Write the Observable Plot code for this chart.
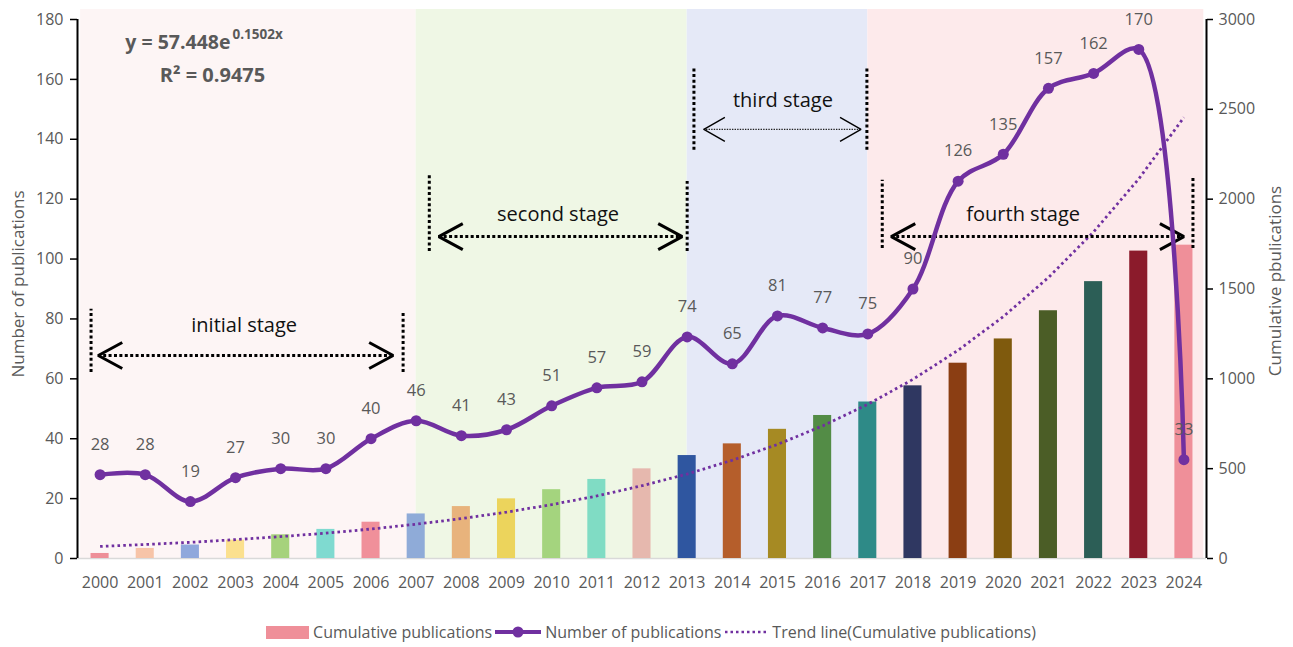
<!DOCTYPE html>
<html><head><meta charset="utf-8">
<script src="https://cdn.jsdelivr.net/npm/d3@7"></script>
<script src="https://cdn.jsdelivr.net/npm/@observablehq/plot@0.6"></script>
<style>
html,body{margin:0;padding:0;background:#fff;}
body{font-family:"Open Sans",sans-serif;width:1293px;}
#legend{display:flex;align-items:center;justify-content:center;height:44px;font-size:16px;color:#595959;padding-left:12px;box-sizing:border-box;width:1293px;}
#legend span.t{margin:0 3px 0 4px;white-space:nowrap;}
</style></head>
<body>
<div id="chart"></div>
<div id="legend">
  <svg width="43" height="13"><rect x="0" y="0" width="43" height="13" fill="#ef8f99"></rect></svg>
  <span class="t">Cumulative publications</span>
  <svg width="46" height="14"><line x1="0" y1="7" x2="46" y2="7" stroke="#7030a0" stroke-width="4"></line><circle cx="23" cy="7" r="5.5" fill="#7030a0"></circle></svg>
  <span class="t">Number of publications</span>
  <svg width="44" height="14"><line x1="1" y1="7" x2="43" y2="7" stroke="#7030a0" stroke-width="2.5" stroke-dasharray="2.5,3"></line></svg>
  <span class="t">Trend line(Cumulative publications)</span>
</div>
<script>
// ---- data ----
const years = [2000,2001,2002,2003,2004,2005,2006,2007,2008,2009,2010,2011,2012,2013,2014,2015,2016,2017,2018,2019,2020,2021,2022,2023,2024];
const annual = [28,28,19,27,30,30,40,46,41,43,51,57,59,74,65,81,77,75,90,126,135,157,162,170,33];
const cumulative = [28,56,75,102,132,162,202,248,289,332,383,440,499,573,638,719,796,871,961,1087,1222,1379,1541,1711,1744];
const trend = [67,78,90,105,122,141,164,191,222,258,300,348,405,470,547,635,738,858,997,1159,1346,1564,1818,2113,2455];
const barColors = ["#ee8f98","#f7c4a8","#8fa8dc","#fbe08e","#a6d27c","#7fdad0","#f0909a","#8fabd8",
                   "#e8b37c","#ecd45c","#a4d47e","#80dcc4","#e6b8ae","#2f56a0","#b55e2b","#a68a23",
                   "#538c46","#2e8a87","#2f3761","#8b3e13","#7f5a0d","#4b5d26","#2c5e56","#8b1b2b","#ef8f99"];
const leftTicks = [0,20,40,60,80,100,120,140,160,180];
const rightTicks = [0,500,1000,1500,2000,2500,3000];

// stages (annotation positions in data space: x = year, y = left-axis units)
const stageNames = ["initial stage","second stage","third stage","fourth stage"];
const stageShadeFrom = [1999.57, 2007, 2013, 2017];
const stageShadeTo = [2007, 2013, 2017, 2024.44];
const stageColors = ["#fdf5f5","#eff7e5","#e5e9f7","#fdeaeb"];
const stageTextX = [2003.19, 2010.14, 2015.12, 2020.44];
const stageTextY = [77.8, 114.9, 153.0, 114.9];
const bracketLeftX = [1999.80, 2007.29, 2013.15, 2017.32];
const bracketRightX = [2006.71, 2013.00, 2016.98, 2024.20];
const bracketLeftTop = [83.2, 127.9, 163.7, 126.3];
const bracketRightTop = [82.5, 125.9, 163.7, 127.3];
const bracketBottom = [62.1, 102.5, 136.3, 103.5];
const arrowFromX = [1999.96, 2007.50, 2013.37, 2017.52];
const arrowToX = [2006.49, 2012.89, 2016.85, 2024.00];
const arrowY = [67.8, 107.5, 143.3, 107.5];
const arrowThin = [false, false, true, false];

// ---- layout ----
const W = 1293, H = 610, mL = 77, mR = 87, mT = 19, mB = 52;
const xDomain = [1999.5, 2024.5];
const leftMax = 180, rightMax = 3000;
const ratio = leftMax / rightMax;
const pxYear = (W - mL - mR) / (xDomain[1] - xDomain[0]);
const pxUnit = (H - mT - mB) / leftMax;
const shadeTop = leftMax + 10 / pxUnit;
const purple = "#7030a0";

const rows = years.map((year, i) => ({year, n: annual[i], cum: cumulative[i] * ratio, trend: trend[i] * ratio, color: barColors[i]}));
const stages = stageNames.map((name, i) => ({
  name, from: stageShadeFrom[i], to: stageShadeTo[i], color: stageColors[i],
  tx: stageTextX[i], ty: stageTextY[i], ax1: arrowFromX[i], ax2: arrowToX[i], ay: arrowY[i], thin: arrowThin[i]
}));
const brackets = stageNames.flatMap((name, i) => [
  {x: bracketLeftX[i], y1: bracketBottom[i], y2: bracketLeftTop[i]},
  {x: bracketRightX[i], y1: bracketBottom[i], y2: bracketRightTop[i]}
]);
const chevrons = [];
stages.forEach((s, i) => {
  const hw = (s.thin ? 21 : 24) / pxYear, hh = (s.thin ? 12 : 13) / pxUnit;
  chevrons.push({id: "L" + i, thin: s.thin, x: s.ax1 + hw, y: s.ay + hh});
  chevrons.push({id: "L" + i, thin: s.thin, x: s.ax1, y: s.ay});
  chevrons.push({id: "L" + i, thin: s.thin, x: s.ax1 + hw, y: s.ay - hh});
  chevrons.push({id: "R" + i, thin: s.thin, x: s.ax2 - hw, y: s.ay + hh});
  chevrons.push({id: "R" + i, thin: s.thin, x: s.ax2, y: s.ay});
  chevrons.push({id: "R" + i, thin: s.thin, x: s.ax2 - hw, y: s.ay - hh});
});
const thick = stages.filter(s => !s.thin), thin = stages.filter(s => s.thin);

const chart = Plot.plot({
  width: W, height: H, marginLeft: mL, marginRight: mR, marginTop: mT, marginBottom: mB,
  style: {fontFamily: "'Open Sans', sans-serif", background: "transparent", overflow: "visible"},
  x: {domain: xDomain},
  y: {domain: [0, leftMax]},
  color: {type: "identity"},
  marks: [
    Plot.rect(stages, {x1: "from", x2: "to", y1: 0, y2: shadeTop, fill: "color"}),
    Plot.ruleY([0], {x1: xDomain[0], x2: xDomain[1], stroke: "#d9d9d9", strokeWidth: 1.5}),
    Plot.rect(rows, {x1: d => d.year - 0.2, x2: d => d.year + 0.2, y1: 0, y2: "cum", fill: "color"}),
    Plot.line(rows, {x: "year", y: "trend", stroke: purple, strokeWidth: 2.8, strokeDasharray: "2.6,3.2", strokeLinecap: "butt"}),
    Plot.ruleX(brackets, {x: "x", y1: "y1", y2: "y2", stroke: "#000", strokeWidth: 3, strokeDasharray: "3,2.6"}),
    Plot.ruleY(thick, {y: "ay", x1: "ax1", x2: "ax2", stroke: "#000", strokeWidth: 3, strokeDasharray: "3,2.4"}),
    Plot.ruleY(thin, {y: "ay", x1: "ax1", x2: "ax2", stroke: "#222", strokeWidth: 1.2, strokeDasharray: "1.4,1.2"}),
    Plot.line(chevrons.filter(d => !d.thin), {x: "x", y: "y", z: "id", stroke: "#000", strokeWidth: 3, strokeLinejoin: "miter", strokeLinecap: "butt"}),
    Plot.line(chevrons.filter(d => d.thin), {x: "x", y: "y", z: "id", stroke: "#000", strokeWidth: 1.4, strokeLinejoin: "miter", strokeLinecap: "butt"}),
    Plot.text(stages, {x: "tx", y: "ty", text: "name", fontSize: 20, fill: "#111"}),
    Plot.line(rows, {x: "year", y: "n", curve: "catmull-rom", stroke: purple, strokeWidth: 4.5}),
    Plot.dot(rows, {x: "year", y: "n", r: 5.5, fill: purple}),
    Plot.text(rows, {x: "year", y: "n", text: d => String(d.n), dy: -30, fontSize: 16.5, fill: "#595959"}),
    Plot.axisX(years, {tickSize: 0, tickPadding: 18, tickFormat: d => String(d), fontSize: 16, fill: "#595959", label: null}),
    Plot.axisY(leftTicks, {anchor: "left", tickSize: 7, tickPadding: 7, stroke: "#000", strokeWidth: 1.5, fill: "#595959", fontSize: 16, label: null}),
    Plot.axisY(rightTicks.map(v => v * ratio), {anchor: "right", tickSize: 6, tickPadding: 6, stroke: "#000", strokeWidth: 1.5, fill: "#595959", fontSize: 16, label: null, tickFormat: d => String(Math.round(d / ratio))}),
    Plot.ruleX([xDomain[0]], {y1: 0, y2: leftMax, stroke: "#000", strokeWidth: 2}),
    Plot.ruleX([xDomain[1]], {y1: 0, y2: leftMax, stroke: "#000", strokeWidth: 2}),
    Plot.text(["Number of publications"], {frameAnchor: "left", textAnchor: "middle", rotate: -90, dx: -59, dy: -5, fontSize: 17, fill: "#595959"}),
    Plot.text(["Cumulative pbulications"], {frameAnchor: "right", textAnchor: "middle", rotate: -90, dx: 69, dy: -8, fontSize: 17, fill: "#595959"}),
    Plot.text(["y = 57.448e"], {frameAnchor: "top-left", dx: 153, dy: 16, textAnchor: "end", fontSize: 19.5, fontWeight: "bold", fill: "#595959"}),
    Plot.text(["0.1502x"], {frameAnchor: "top-left", dx: 155, dy: 10, textAnchor: "start", fontSize: 13.5, fontWeight: "bold", fill: "#595959"}),
    Plot.text(["R\u00B2 = 0.9475"], {frameAnchor: "top-left", dx: 135, dy: 48, textAnchor: "middle", fontSize: 20, fontWeight: "bold", fill: "#595959"})
  ]
});
document.getElementById("chart").appendChild(chart);
</script>
</body></html>
